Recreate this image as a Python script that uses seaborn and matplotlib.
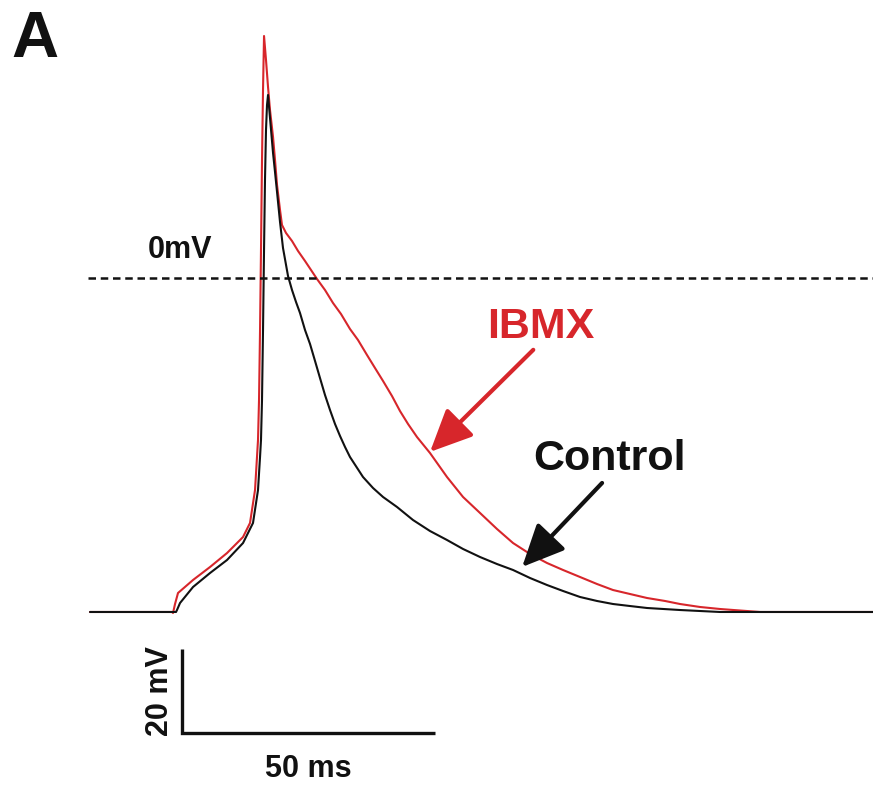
import matplotlib
matplotlib.use("Agg")
import matplotlib.pyplot as plt
import seaborn as sns
import pandas as pd

# Membrane potential traces (time in ms, voltage in mV)
control_t = [0.0, 17.0, 17.19, 17.79, 20.36, 23.72, 27.08, 30.24, 32.21, 33.20,
             33.60, 33.79, 33.99, 34.19, 34.39, 34.58, 34.78, 34.98, 35.18, 35.57,
             36.17, 36.56, 36.96, 37.55, 38.14, 39.13, 39.92, 40.71, 41.50, 42.49,
             43.48, 44.47, 45.45, 46.44, 47.43, 48.42, 49.41, 50.40, 51.38, 53.95,
             55.93, 57.91, 60.67, 63.83, 67.19, 70.55, 73.72, 77.08, 80.43, 83.60,
             86.96, 90.32, 93.48, 96.84, 100.20, 103.36, 106.72, 110.08, 116.60,
             124.51, 154.74]
control_v = [-79.52, -79.52, -79.05, -77.38, -73.57, -70.24, -67.14, -63.10, -58.33,
             -50.48, -42.62, -38.57, -29.05, -12.38, 6.67, 23.33, 35.24, 41.19,
             43.57, 38.10, 29.76, 25.24, 20.48, 13.33, 7.14, 0.48, -2.86, -5.71,
             -8.33, -12.38, -15.71, -19.76, -23.81, -27.86, -31.43, -34.76, -37.62,
             -40.24, -42.62, -47.38, -50.00, -52.14, -54.52, -57.62, -60.24, -62.38,
             -64.52, -66.43, -68.10, -69.52, -71.43, -73.10, -74.52, -75.95, -76.90,
             -77.62, -78.10, -78.57, -79.05, -79.52, -79.52]

ibmx_t = [0.0, 16.21, 16.40, 16.80, 17.39, 20.36, 23.72, 27.08, 30.24, 31.62,
          32.61, 33.00, 33.20, 33.40, 33.60, 33.79, 33.99, 34.19, 34.39, 34.78,
          35.18, 35.57, 36.17, 36.56, 36.96, 37.55, 37.94, 38.74, 39.92, 41.11,
          42.49, 43.68, 44.86, 46.44, 48.02, 49.60, 51.38, 52.96, 54.74, 56.32,
          57.91, 59.68, 61.26, 62.85, 64.62, 67.19, 70.55, 73.72, 77.08, 80.43,
          83.60, 86.96, 90.32, 93.48, 96.84, 100.20, 103.36, 106.72, 110.08,
          113.64, 116.60, 120.55, 124.51, 132.41, 154.74]
ibmx_v = [-79.52, -79.52, -79.76, -77.62, -75.00, -71.90, -68.81, -65.48, -61.67,
          -58.33, -50.48, -42.62, -38.57, -29.05, -12.38, 6.67, 28.10, 44.76,
          57.62, 51.90, 45.48, 40.00, 33.57, 28.10, 22.14, 16.19, 12.62, 10.71,
          8.81, 6.43, 4.05, 1.90, -0.24, -2.86, -5.95, -8.57, -12.14, -14.76,
          -18.33, -21.43, -24.52, -28.10, -31.67, -34.76, -37.86, -41.67, -47.38,
          -52.14, -55.95, -59.76, -63.10, -65.71, -67.86, -69.52, -71.19, -72.86,
          -74.29, -75.24, -76.19, -76.90, -77.62, -78.33, -78.81, -79.52, -79.52]

conditions = ["IBMX", "Control"]
colors = {"IBMX": "#d7262b", "Control": "#111111"}

# Scale bar sizes
bar_ms = 50
bar_mv = 20

df = pd.concat([
    pd.DataFrame({"time": ibmx_t, "voltage": ibmx_v, "condition": "IBMX"}),
    pd.DataFrame({"time": control_t, "voltage": control_v, "condition": "Control"}),
], ignore_index=True)

sns.set_theme(style="white")
plt.rcParams["font.family"] = ["Liberation Sans", "DejaVu Sans"]

fig = plt.figure(figsize=(8.73, 7.87), dpi=100)
ax = fig.add_axes([0, 0, 1, 1])

sns.lineplot(data=df, x="time", y="voltage", hue="condition", hue_order=conditions,
             palette=colors, sort=False, estimator=None, lw=1.5, legend=False, ax=ax)

ax.set_xlim(-17.79, 154.74)
ax.set_ylim(-121.19, 66.19)
ax.axis("off")

# 0 mV reference line
ax.plot([-0.4, 154.74], [0, 0], color="#111111", lw=1.8, dashes=(3.0, 1.9))
ax.text(11.5, 4.8, "0mV", fontsize=22, fontweight="bold", color="#111111",
        ha="left", va="baseline")

# Scale bar
x0, y0 = 18.2, -108.3
ax.plot([x0, x0, x0 + bar_ms], [y0 + bar_mv, y0, y0], color="#111111", lw=2.4,
        solid_joinstyle="miter", solid_capstyle="butt")
ax.text(x0 + bar_ms / 2, -118.8, f"{bar_ms} ms", fontsize=22, fontweight="bold",
        color="#111111", ha="center", va="baseline")
ax.text(15.4, y0 + bar_mv / 2, f"{bar_mv} mV", fontsize=22, fontweight="bold",
        color="#111111", ha="center", va="baseline", rotation=90,
        rotation_mode="anchor")

# Labels with arrows
ax.text(78.5, -14.3, "IBMX", fontsize=31, fontweight="bold", color=colors["IBMX"],
        ha="left", va="baseline")
ax.annotate("", xy=(67.2, -41.4), xytext=(87.6, -17.1),
            arrowprops=dict(arrowstyle="-|>,head_length=1.3,head_width=0.6",
                            mutation_scale=20, lw=3, color=colors["IBMX"],
                            shrinkA=0, shrinkB=0))
ax.text(87.6, -45.7, "Control", fontsize=31, fontweight="bold",
        color=colors["Control"], ha="left", va="baseline")
ax.annotate("", xy=(85.4, -68.8), xytext=(101.2, -48.8),
            arrowprops=dict(arrowstyle="-|>,head_length=1.3,head_width=0.6",
                            mutation_scale=20, lw=3, color=colors["Control"],
                            shrinkA=0, shrinkB=0))

# Panel letter
fig.text(11 / 873, 1 - 57 / 787, "A", fontsize=47, fontweight="bold",
         color="#111111", ha="left", va="baseline")

fig.savefig("out.png", dpi=100, facecolor="white")
